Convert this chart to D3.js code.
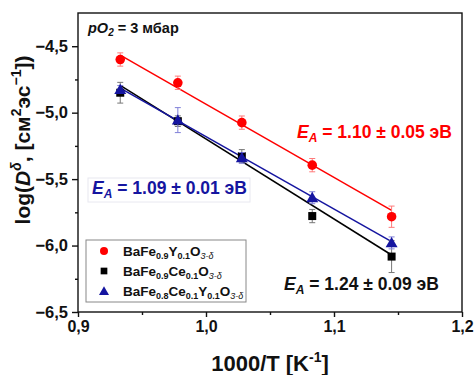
<!DOCTYPE html>
<html>
<head>
<meta charset="utf-8">
<script src="https://cdn.jsdelivr.net/npm/d3@7"></script>
<style>
  html, body { margin: 0; padding: 0; background: #fff; }
  svg { display: block; font-family: 'Liberation Sans', Arial, sans-serif; }
</style>
</head>
<body>
<div id="chart"></div>
<script>
// 1000/T values (K^-1) shared by all three samples
const invT = [0.933, 0.978, 1.028, 1.083, 1.145]

const redY = [-4.60, -4.775, -5.075, -5.395, -5.783]
const redErr = [0.05, 0.05, 0.05, 0.05, 0.08]
const blackY = [-4.85, -5.064, -5.328, -5.778, -6.083]
const blackErr = [0.078, 0.04, 0.05, 0.05, 0.12]
const blueY = [-4.826, -5.056, -5.34, -5.64, -5.98]
const blueErr = [0.03, 0.094, 0.04, 0.045, 0.045]

// linear fits: value at first and last 1000/T
const fitX = [0.933, 1.145]
const redFit = [-4.567, -5.735]
const blackFit = [-4.795, -6.071]
const blueFit = [-4.815, -5.971]

const xTicks = [0.9, 1.0, 1.1, 1.2]
const xMinor = [0.95, 1.05, 1.15]
const yTicks = [-6.5, -6.0, -5.5, -5.0, -4.5]
const yMinor = [-6.25, -5.75, -5.25, -4.75]

const W = 474, H = 375
const margin = { top: 13, right: 12, bottom: 63, left: 78 }

const RED = '#ff0000', BLUE = '#1515a0', BLACK = '#000'

const svg = d3.select('#chart').append('svg').attr('width', W).attr('height', H)

const xScale = d3.scaleLinear().domain([0.9, 1.2]).range([margin.left, W - margin.right])
const yScale = d3.scaleLinear().domain([-6.5, -4.25]).range([H - margin.bottom, margin.top])

const comma = (d) => d3.format('.1f')(d).replace('.', ',')

// frame
svg.append('rect')
  .attr('x', margin.left).attr('y', margin.top)
  .attr('width', W - margin.left - margin.right)
  .attr('height', H - margin.top - margin.bottom)
  .attr('fill', 'none').attr('stroke', '#111').attr('stroke-width', 1.4)

// bottom axis
const xAxis = svg.append('g')
  .attr('transform', `translate(0,${H - margin.bottom})`)
  .call(d3.axisBottom(xScale).tickValues(xTicks).tickFormat(comma).tickSize(5).tickPadding(4))
xAxis.select('.domain').remove()
xAxis.selectAll('.tick line').attr('stroke', '#111').attr('stroke-width', 1.4)
xAxis.selectAll('.tick text').attr('font-size', 16).attr('font-weight', 'bold').attr('fill', '#111')
  .attr('font-family', "'Liberation Sans', Arial, sans-serif")
svg.append('g')
  .attr('transform', `translate(0,${H - margin.bottom})`)
  .call(d3.axisBottom(xScale).tickValues(xMinor).tickFormat('').tickSize(3))
  .call((g) => g.select('.domain').remove())
  .call((g) => g.selectAll('.tick line').attr('stroke', '#111').attr('stroke-width', 1.4))

// left axis
const yAxis = svg.append('g')
  .attr('transform', `translate(${margin.left},0)`)
  .call(d3.axisLeft(yScale).tickValues(yTicks).tickFormat(comma).tickSize(6).tickPadding(4))
yAxis.select('.domain').remove()
yAxis.selectAll('.tick line').attr('stroke', '#111').attr('stroke-width', 1.4)
yAxis.selectAll('.tick text').attr('font-size', 16.5).attr('font-weight', 'bold').attr('fill', '#111')
  .attr('font-family', "'Liberation Sans', Arial, sans-serif")
svg.append('g')
  .attr('transform', `translate(${margin.left},0)`)
  .call(d3.axisLeft(yScale).tickValues(yMinor).tickFormat('').tickSize(3))
  .call((g) => g.select('.domain').remove())
  .call((g) => g.selectAll('.tick line').attr('stroke', '#111').attr('stroke-width', 1.4))

// axis titles
const xTitle = svg.append('text')
  .attr('x', 270).attr('y', 371)
  .attr('text-anchor', 'middle')
  .attr('font-size', 22).attr('font-weight', 'bold').attr('fill', '#111')
xTitle.append('tspan').text('1000/T [K')
xTitle.append('tspan').attr('font-size', 14).attr('dy', -9).text('-1')
xTitle.append('tspan').attr('dy', 9).text(']')

const yTitle = svg.append('text')
  .attr('transform', 'translate(30,140) rotate(-90)')
  .attr('text-anchor', 'middle')
  .attr('font-size', 21).attr('font-weight', 'bold').attr('fill', '#111')
yTitle.append('tspan').text('log(')
yTitle.append('tspan').attr('font-style', 'italic').text('D')
yTitle.append('tspan').attr('font-size', 14).attr('font-style', 'italic').attr('dy', -9).text('δ')
yTitle.append('tspan').attr('dy', 9).text(', [см')
yTitle.append('tspan').attr('font-size', 14).attr('dy', -9).text('2')
yTitle.append('tspan').attr('dy', 9).text('эс')
yTitle.append('tspan').attr('font-size', 14).attr('dy', -9).text('−1')
yTitle.append('tspan').attr('dy', 9).text('])')

// blue annotation background box
svg.append('rect')
  .attr('x', 88).attr('y', 178).attr('width', 162).attr('height', 24)
  .attr('fill', '#fff').attr('stroke', '#e8e8f0').attr('stroke-width', 1)

const series = [
  { ys: blackY, err: blackErr, fit: blackFit, color: BLACK, errColor: '#777', shape: 'square' },
  { ys: blueY, err: blueErr, fit: blueFit, color: BLUE, errColor: '#8080d8', shape: 'triangle' },
  { ys: redY, err: redErr, fit: redFit, color: RED, errColor: '#ff7a7a', shape: 'circle' },
]

const line = d3.line().x((d) => xScale(d[0])).y((d) => yScale(d[1]))

// fit lines
series.forEach((s) => {
  svg.append('path')
    .attr('d', line(fitX.map((x, i) => [x, s.fit[i]])))
    .attr('fill', 'none').attr('stroke', s.color).attr('stroke-width', 1.5)
})

const symbolFor = (shape, k = 1) => {
  if (shape === 'square') return d3.symbol().type(d3.symbolSquare).size(64 * k)
  if (shape === 'triangle') return d3.symbol().type(d3.symbolTriangle).size(62 * k)
  return d3.symbol().type(d3.symbolCircle).size(72 * k)
}

// error bars + markers
series.forEach((s) => {
  const g = svg.append('g')
  const pts = invT.map((x, i) => ({ x, y: s.ys[i], e: s.err[i] }))
  pts.forEach((p) => {
    const cx = xScale(p.x)
    const y0 = yScale(p.y - p.e), y1 = yScale(p.y + p.e)
    g.append('line').attr('x1', cx).attr('x2', cx).attr('y1', y0).attr('y2', y1)
      .attr('stroke', s.errColor).attr('stroke-width', 1)
    ;[y0, y1].forEach((yy) => {
      g.append('line').attr('x1', cx - 3).attr('x2', cx + 3).attr('y1', yy).attr('y2', yy)
        .attr('stroke', s.errColor).attr('stroke-width', 1)
    })
  })
  g.selectAll('path.m')
    .data(pts)
    .join('path')
    .attr('class', 'm')
    .attr('d', symbolFor(s.shape))
    .attr('transform', (d) => `translate(${xScale(d.x)},${yScale(d.y) + (s.shape === 'triangle' ? 1 : 0)})`)
    .attr('fill', s.color)
})

// E_A annotations
const drawEa = (x, y, color, txt) => {
  const t = svg.append('text').attr('x', x).attr('y', y)
    .attr('font-size', 17.5).attr('font-weight', 'bold').attr('fill', color)
  t.append('tspan').attr('font-style', 'italic').text('E')
  t.append('tspan').attr('font-style', 'italic').attr('font-size', 12).attr('dy', 4).text('A')
  t.append('tspan').attr('dy', -4).text(' = ' + txt)
}
drawEa(297, 138, RED, '1.10 ± 0.05 эВ')
drawEa(92, 194, BLUE, '1.09 ± 0.01 эВ')
drawEa(284, 290, '#111', '1.24 ± 0.09 эВ')

// pO2 label
const po = svg.append('text').attr('x', 88).attr('y', 33)
  .attr('font-size', 14.5).attr('font-weight', 'bold').attr('fill', '#111')
po.append('tspan').attr('font-style', 'italic').text('pO')
po.append('tspan').attr('font-style', 'italic').attr('font-size', 10).attr('dy', 3).text('2')
po.append('tspan').attr('dy', -3).text(' = 3 мбар')

// legend
const legendNames = [
  [['BaFe', ''], ['0.9', 's'], ['Y', ''], ['0.1', 's'], ['O', ''], ['3-δ', 'd']],
  [['BaFe', ''], ['0.9', 's'], ['Ce', ''], ['0.1', 's'], ['O', ''], ['3-δ', 'd']],
  [['BaFe', ''], ['0.8', 's'], ['Ce', ''], ['0.1', 's'], ['Y', ''], ['0.1', 's'], ['O', ''], ['3-δ', 'd']],
]
const legendSeries = [series[2], series[0], series[1]]

svg.append('rect')
  .attr('x', 86).attr('y', 240).attr('width', 160).attr('height', 62)
  .attr('fill', '#fff').attr('stroke', '#888').attr('stroke-width', 1)

legendNames.forEach((parts, i) => {
  const cy = 251 + i * 20
  const s = legendSeries[i]
  svg.append('path')
    .attr('d', symbolFor(s.shape, 0.7))
    .attr('transform', `translate(104,${cy + (s.shape === 'triangle' ? 1 : 0)})`)
    .attr('fill', s.color)
  const t = svg.append('text').attr('x', 123).attr('y', cy + 5)
    .attr('font-size', 13.5).attr('font-weight', 'bold').attr('fill', '#111')
  let shifted = false
  parts.forEach(([str, kind]) => {
    const sp = t.append('tspan').text(str)
    if (kind) {
      sp.attr('font-size', 9).attr('dy', shifted ? 0 : 3)
      if (kind === 'd') sp.attr('font-style', 'italic').attr('font-weight', 'normal')
      shifted = true
    } else {
      sp.attr('dy', shifted ? -3 : 0)
      shifted = false
    }
  })
})
</script>
</body>
</html>
